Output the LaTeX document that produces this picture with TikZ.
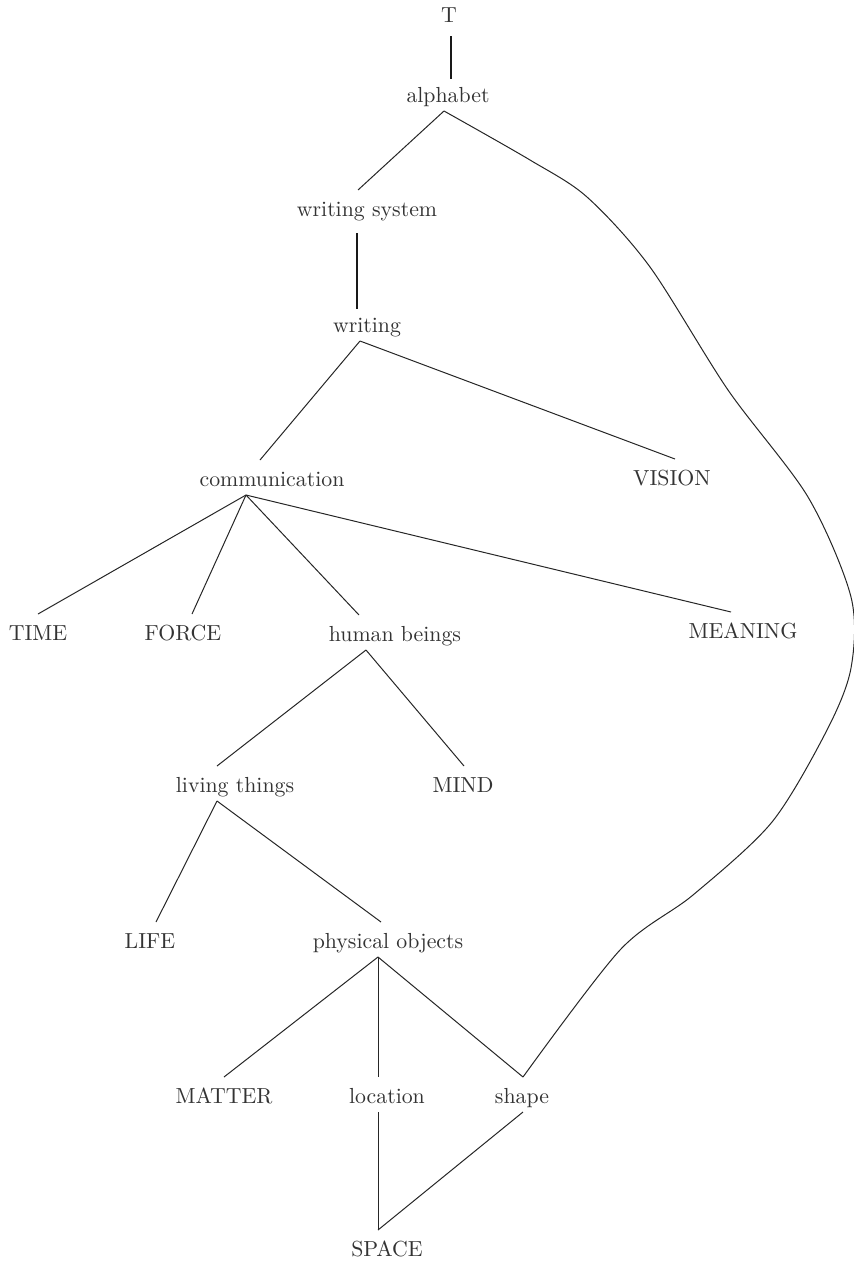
\documentclass[tikz,border=0pt]{standalone}
\usetikzlibrary{positioning,calc}
\begin{document}
\begin{tikzpicture}[x=0.5pt, y=-0.5pt,
    word/.style={anchor=base, inner sep=0pt, outer sep=0pt, text height=13pt, text depth=4.5pt,
      font=\fontsize{10.9}{13}\selectfont, text=black!80},
    link/.style={line width=0.5pt, draw=black!85},
    boldlink/.style={line width=1.1pt, draw=black!90}]
    \useasboundingbox (0,0) rectangle (853,1264);
    % top of the chain
    \node[word] (T) at (449,22) {T};
    \node[word] (alph) at (448,102) {alphabet};
    \node[word] (wsys) at (367,216) {writing system};
    \node[word] (wrt) at (367,332) {writing};
    \node[word] (comm) at (272,486) {communication};
    \node[word] (vis) at (672,485) {VISION};
    % children of communication
    \node[word] (time) at (38,640) {TIME};
    \node[word] (force) at (183,640) {FORCE};
    \node[word] (hb) at (395,641) {human beings};
    \node[word] (mean) at (743,638) {MEANING};
    \node[word] (liv) at (235,792) {living things};
    \node[word] (mind) at (463,792) {MIND};
    \node[word] (life) at (150,948) {LIFE};
    \node[word] (phys) at (388,948) {physical objects};
    % bottom
    \node[word] (matter) at (224,1103) {MATTER};
    \node[word] (loc) at (387,1103) {location};
    \node[word] (shape) at (522,1103) {shape};
    \node[word] (space) at (387,1256) {SPACE};
    % thick links
    \draw[boldlink] ([shift={(2,5)}]T.south) -- ([shift={(3,3)}]alph.north);
    \draw[boldlink] ([shift={(-10,8)}]wsys.south) -- ([shift={(-10,3)}]wrt.north);
    % links
    \draw[link] ([shift={(-4,0)}]alph.south) -- ([shift={(-9,0)}]wsys.north);
    \draw[link] ([shift={(-7,0)}]wrt.south) -- ([shift={(-12,0)}]comm.north);
    \draw[link] ([shift={(-7,0)}]wrt.south) -- ([shift={(3,0)}]vis.north);
    \draw[link] ([shift={(-26,0)}]comm.south) -- (time.north);
    \draw[link] ([shift={(-26,0)}]comm.south) -- ([shift={(9,0)}]force.north);
    \draw[link] ([shift={(-26,0)}]comm.south) -- ([shift={(-36,0)}]hb.north);
    \draw[link] ([shift={(-26,0)}]comm.south) -- ([shift={(-12,0)}]mean.north);
    \draw[link] ([shift={(-29,0)}]hb.south) -- ([shift={(-18,0)}]liv.north);
    \draw[link] ([shift={(-29,0)}]hb.south) -- ([shift={(1,0)}]mind.north);
    \draw[link] ([shift={(-18,0)}]liv.south) -- ([shift={(6,0)}]life.north);
    \draw[link] ([shift={(-18,0)}]liv.south) -- ([shift={(-7,0)}]phys.north);
    \draw[link] ([shift={(-10,0)}]phys.south) -- (matter.north);
    \draw[link] ([shift={(-10,0)}]phys.south) -- ([shift={(-9,0)}]loc.north);
    \draw[link] ([shift={(-10,0)}]phys.south) -- ([shift={(1,0)}]shape.north);
    \draw[link] ([shift={(-9,0)}]loc.south) -- ([shift={(-9,0)}]space.north);
    \draw[link] ([shift={(1,0)}]shape.south) -- ([shift={(-9,0)}]space.north);
    % long curve alphabet -> shape
    \coordinate (c0) at ([shift={(-4,0)}]alph.south);
    \coordinate (c1) at ([shift={(1,0)}]shape.north);
    \draw[link] plot[smooth, tension=0.5] coordinates {(c0) (530,160) (587,197) (650,267) (728,390)
      (808,497) (851,597) (851,668) (827,730) (772,822) (693,895) (620,950) (c1)};
\end{tikzpicture}
\end{document}
